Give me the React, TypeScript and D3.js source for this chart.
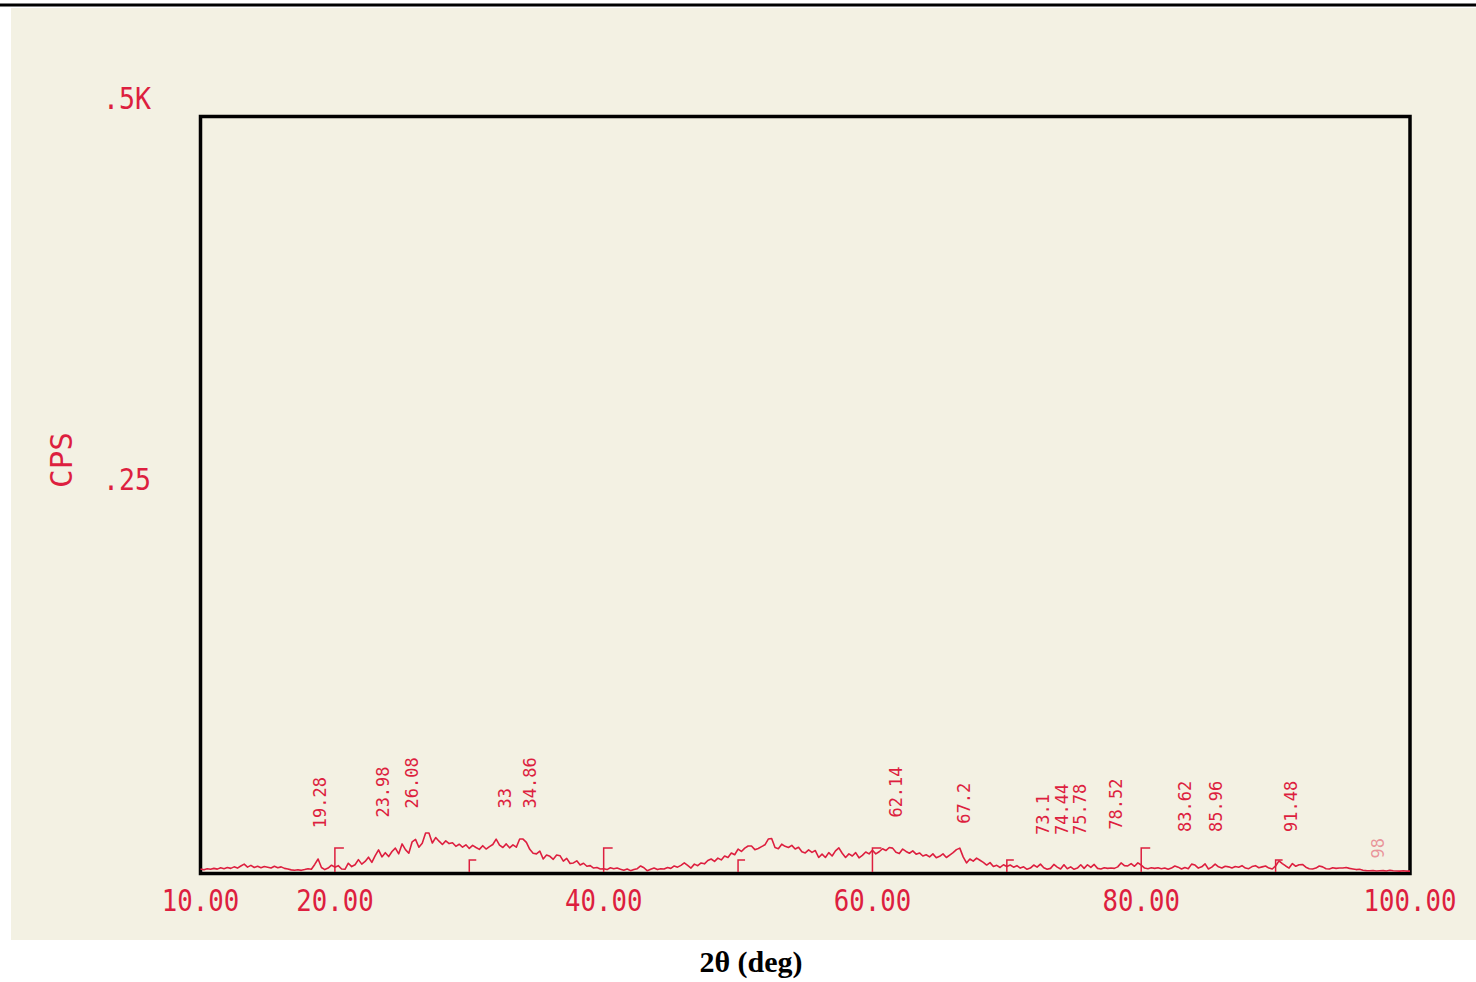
import React from 'react';
import * as d3 from 'd3';

const W = 1476;
const H = 982;

// X axis tick labels (deg) printed under the frame
const xTickValues = [10, 20, 40, 60, 80, 100];
// Y axis labels (CPS)
const yTickValues = [250, 500];
const yTickLabels = ['.25', '.5K'];
// Small plotter marks on the baseline
const majorMarks = [20, 40, 60, 80];
const minorMarks = [30, 50, 70, 90];

// Peak annotations
const peakPositions = [19.28, 23.98, 26.08, 33, 34.86, 62.14, 67.2, 73.1, 74.44, 75.78, 78.52, 83.62, 85.96, 91.48, 98];
const peakLabels = ['19.28', '23.98', '26.08', '33', '34.86', '62.14', '67.2', '73.1', '74.44', '75.78', '78.52', '83.62', '85.96', '91.48', '98'];
const peakLabelLevels = [29, 36, 42, 42, 42, 36, 32, 24.5, 24.5, 24.5, 28, 26.5, 26.5, 26.5, 9];

// Scan: 2θ from 10 to 100 deg, step 0.25 deg, intensity in CPS
const scanStart = 10;
const scanStep = 0.25;
const intensity = [
  2.0, 1.5, 2.2, 1.8, // 10
  2.4, 1.9, 2.8, 2.2, // 11
  3.0, 2.4, 3.4, 2.6, // 12
  4.0, 5.2, 3.2, 4.4, // 13
  3.0, 3.8, 2.8, 3.6, // 14
  3.2, 2.6, 3.8, 2.8, // 15
  3.4, 2.4, 2.0, 1.4, // 16
  1.2, 1.5, 1.1, 1.6, // 17
  2.2, 1.8, 5.0, 8.6, // 18
  3.0, 1.6, 2.6, 4.5, // 19
  3.2, 4.2, 2.0, 1.8, // 20
  5.8, 3.6, 4.8, 8.2, // 21
  5.2, 7.0, 9.8, 6.4, // 22
  10.8, 14.6, 10.0, 12.8, // 23
  10.2, 13.6, 15.8, 12.0, // 24
  18.6, 14.8, 12.4, 20.0, // 25
  21.6, 16.4, 19.0, 25.8, // 26
  25.8, 19.2, 22.8, 20.4, // 27
  18.2, 20.6, 18.8, 19.4, // 28
  17.0, 18.4, 16.4, 18.0, // 29
  15.6, 17.6, 16.2, 15.0, // 30
  17.4, 15.2, 16.8, 18.2, // 31
  21.8, 17.8, 16.2, 18.6, // 32
  16.0, 18.0, 16.4, 21.8, // 33
  21.8, 19.6, 15.0, 12.4, // 34
  12.0, 13.8, 8.6, 11.2, // 35
  10.4, 8.4, 11.2, 10.8, // 36
  7.2, 9.0, 5.6, 6.0, // 37
  7.4, 4.6, 5.8, 3.8, // 38
  4.2, 2.6, 3.0, 2.0, // 39
  2.2, 1.6, 2.8, 2.2, // 40
  2.6, 1.8, 1.2, 2.0, // 41
  0.9, 1.6, 2.2, 4.0, // 42
  2.8, 0.8, 1.8, 2.6, // 43
  1.6, 2.2, 2.0, 3.0, // 44
  2.4, 4.0, 3.2, 4.4, // 45
  6.0, 4.4, 2.6, 5.2, // 46
  4.2, 6.0, 5.4, 7.6, // 47
  8.6, 7.0, 9.2, 8.0, // 48
  10.6, 9.6, 12.6, 11.4, // 49
  15.2, 13.6, 15.8, 17.2, // 50
  17.2, 14.8, 15.6, 16.8, // 51
  18.0, 21.8, 22.2, 16.2, // 52
  15.4, 18.4, 17.0, 16.2, // 53
  17.6, 15.2, 16.4, 13.4, // 54
  12.6, 14.6, 13.0, 14.2, // 55
  9.6, 11.8, 9.6, 12.8, // 56
  10.6, 14.0, 16.0, 12.4, // 57
  9.6, 12.0, 10.6, 12.8, // 58
  9.4, 11.0, 13.2, 12.0, // 59
  14.4, 12.0, 13.4, 15.4, // 60
  14.2, 16.2, 15.8, 13.0, // 61
  12.2, 15.2, 13.6, 12.4, // 62
  14.0, 11.8, 12.6, 10.6, // 63
  11.4, 10.0, 12.0, 9.4, // 64
  10.4, 12.0, 9.6, 11.2, // 65
  12.8, 14.8, 15.8, 10.0, // 66
  6.0, 8.6, 7.2, 9.2, // 67
  7.8, 6.4, 4.6, 6.2, // 68
  3.6, 4.4, 3.0, 4.8, // 69
  3.6, 4.6, 3.2, 4.2, // 70
  2.6, 3.4, 1.8, 2.6, // 71
  4.6, 3.2, 5.2, 2.8, // 72
  1.8, 2.4, 5.0, 3.2, // 73
  2.0, 4.8, 2.2, 3.4, // 74
  1.8, 2.6, 4.8, 2.4, // 75
  4.8, 3.0, 5.0, 2.4, // 76
  2.0, 2.8, 2.4, 2.6, // 77
  2.4, 3.4, 6.0, 4.2, // 78
  4.0, 5.6, 3.8, 6.0, // 79
  4.6, 2.6, 2.2, 2.8, // 80
  2.4, 2.8, 2.2, 2.6, // 81
  1.8, 2.6, 4.0, 3.2, // 82
  2.0, 3.0, 2.2, 5.2, // 83
  4.6, 2.6, 3.4, 5.4, // 84
  2.0, 3.2, 5.2, 3.4, // 85
  2.6, 3.8, 3.4, 2.6, // 86
  3.6, 3.2, 4.2, 2.6, // 87
  2.2, 3.6, 4.2, 2.8, // 88
  3.4, 4.0, 2.6, 2.0, // 89
  4.0, 7.4, 5.6, 4.0, // 90
  2.6, 5.6, 3.8, 4.8, // 91
  5.0, 3.2, 2.2, 2.0, // 92
  2.6, 4.0, 3.4, 2.2, // 93
  2.0, 2.8, 2.4, 2.6, // 94
  2.6, 3.0, 2.4, 2.0, // 95
  1.6, 1.8, 1.2, 0.9, // 96
  0.8, 1.0, 0.7, 0.8, // 97
  0.9, 0.7, 1.2, 0.8, // 98
  0.7, 0.6, 0.8, 0.6, // 99
  0.6, // 100
];

const RED = '#dd1f3f';
const MONO = '"DejaVu Sans Mono", "Liberation Mono", monospace';

export default function App() {
  const x = d3.scaleLinear().domain([10, 100]).range([200.5, 1410]);
  const y = d3.scaleLinear().domain([0, 500]).range([872, 116.5]);

  const points: [number, number][] = intensity.map((v, i) => [scanStart + i * scanStep, v]);
  const line = d3
    .line<[number, number]>()
    .x((d) => x(d[0]))
    .y((d) => y(d[1]));

  const fmt = d3.format('.2f');

  return (
    <svg
      width={W}
      height={H}
      viewBox={`0 0 ${W} ${H}`}
      style={{ position: 'absolute', left: 0, top: 0, background: '#ffffff' }}
    >
      {/* scanned paper */}
      <rect x={11} y={8} width={W - 11} height={932} fill="#f3f1e3" />
      <rect x={0} y={3.5} width={W} height={3} fill="#000" />

      {/* plot frame */}
      <rect
        x={x(10)}
        y={y(500)}
        width={x(100) - x(10)}
        height={y(0) - y(500) + 1.5}
        fill="none"
        stroke="#000"
        strokeWidth={3.5}
      />

      {/* baseline marks */}
      {majorMarks.map((m) => (
        <path
          key={'M' + m}
          d={`M${x(m)},${y(0)} V${y(0) - 24} h9`}
          fill="none"
          stroke={RED}
          strokeWidth={1.5}
        />
      ))}
      {minorMarks.map((m) => (
        <path
          key={'m' + m}
          d={`M${x(m)},${y(0)} V${y(0) - 12} h7`}
          fill="none"
          stroke={RED}
          strokeWidth={1.5}
        />
      ))}

      {/* diffraction trace */}
      <path d={line(points) || ''} fill="none" stroke={RED} strokeWidth={1.6} strokeLinejoin="round" />

      {/* peak labels */}
      {peakPositions.map((p, i) => (
        <text
          key={'p' + i}
          transform={`translate(${x(p) + 1},${y(peakLabelLevels[i])}) rotate(-90)`}
          fontFamily={MONO}
          fontSize={17}
          fill={RED}
          fillOpacity={p >= 95 ? 0.45 : 1}
        >
          {peakLabels[i]}
        </text>
      ))}

      {/* x tick labels */}
      {xTickValues.map((v) => (
        <text
          key={'x' + v}
          transform={`translate(${x(v)},911) scale(0.92,1.05)`}
          textAnchor="middle"
          fontFamily={MONO}
          fontSize={28}
          fill={RED}
        >
          {fmt(v)}
        </text>
      ))}

      {/* y tick labels */}
      {yTickValues.map((v, i) => (
        <text
          key={'y' + v}
          transform={`translate(103,${y(v) - 4 - (v >= 500 ? 4 : 0)}) scale(0.95,1.05)`}
          fontFamily={MONO}
          fontSize={28}
          fill={RED}
        >
          {yTickLabels[i]}
        </text>
      ))}

      {/* y axis title */}
      <text
        transform="translate(72,460) rotate(-90)"
        textAnchor="middle"
        fontFamily={MONO}
        fontSize={31}
        fill={RED}
      >
        CPS
      </text>

      {/* x axis title */}
      <text
        x={751}
        y={972}
        textAnchor="middle"
        fontFamily='"Liberation Serif", "Times New Roman", serif'
        fontWeight="bold"
        fontSize={30}
        fill="#000"
      >
        2θ (deg)
      </text>
    </svg>
  );
}
